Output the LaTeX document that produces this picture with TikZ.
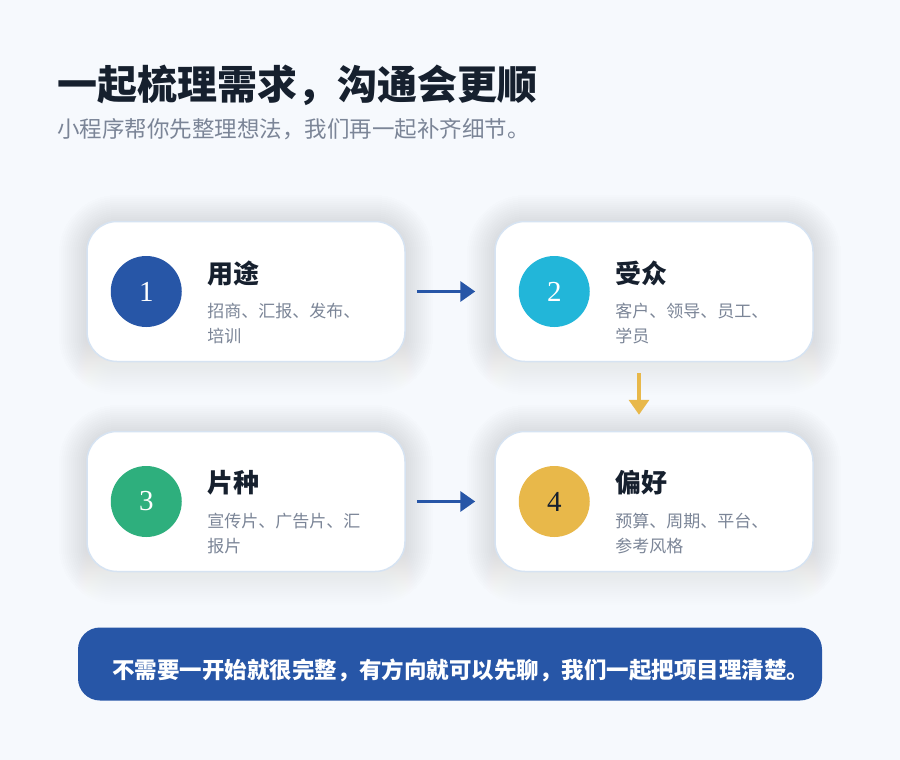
\documentclass[tikz,border=0pt]{standalone}
\usepackage{fontspec}
\setmainfont{Liberation Serif}
\newfontfamily\cjk{Noto Sans CJK SC}
\usepackage{tikz}
\usetikzlibrary{arrows.meta,positioning}
\definecolor{bgpage}{HTML}{F6F9FD}
\definecolor{ink}{HTML}{16202E}
\definecolor{mute}{HTML}{7B8597}
\definecolor{edge}{HTML}{D6E3F2}
\definecolor{shade}{HTML}{2A4C86}
\definecolor{royal}{HTML}{2756A7}
\definecolor{cyan}{HTML}{22B6D9}
\definecolor{jade}{HTML}{2EAF7D}
\definecolor{gold}{HTML}{E8B84A}

\begin{document}
\begin{tikzpicture}[x=1pt,y=-1pt,
  card/.style={draw=edge,line width=1.5pt,fill=white,rounded corners=30pt,
    minimum width=318pt,minimum height=140pt,inner sep=0pt},
  badge/.style={circle,minimum size=71pt,inner sep=0pt,
    font=\fontsize{29}{29}\selectfont,text=white},
  head/.style={anchor=north west,inner sep=0pt,text=ink,
    font=\cjk\bfseries\fontsize{26}{30}\selectfont},
  note/.style={anchor=north west,inner sep=0pt,align=left,text=mute,
    font=\cjk\fontsize{17}{25}\selectfont},
  arr/.style={-{Triangle[length=15pt,width=20pt]},line width=3.5pt}]
\fill[bgpage] (0,0) rectangle (900,760);
\useasboundingbox (0,0) rectangle (900,760);
% soft shadows under the cards
\foreach \cx/\cy in {246/291,654/291,246/501,654/501}
  \foreach \s in {1,...,14}
    \fill[shade,opacity=0.0035,rounded corners=30pt+\s*2pt]
      (\cx-159-\s*2,\cy-68-\s*2) rectangle (\cx+159+\s*2,\cy+76+\s*2);
% heading
\node[anchor=north west,inner sep=0pt,text=ink,
  font=\cjk\bfseries\fontsize{40}{44}\selectfont] (ttl) at (57,65)
  {一起梳理需求，沟通会更顺};
\node[anchor=north west,inner sep=0pt,text=mute,
  font=\cjk\fontsize{22.5}{26}\selectfont] (sub) at (57,118)
  {小程序帮你先整理想法，我们再一起补齐细节。};
% cards
\node[card] (use) at (246,291.5) {};
\node[card] (aud) at (654,291.5) {};
\node[card] (kind) at (246,501.5) {};
\node[card] (pref) at (654,501.5) {};
\node[badge,fill=royal] (usen) at ([xshift=60pt]use.west) {1};
\node[badge,fill=cyan] (audn) at ([xshift=60pt]aud.west) {2};
\node[badge,fill=jade] (kindn) at ([xshift=60pt]kind.west) {3};
\node[badge,fill=gold,text=ink] (prefn) at ([xshift=60pt]pref.west) {4};
\node[head] (uset) at ([xshift=121pt,yshift=31pt]use.west) {用途};
\node[head] (audt) at ([xshift=121pt,yshift=31pt]aud.west) {受众};
\node[head] (kindt) at ([xshift=121pt,yshift=31pt]kind.west) {片种};
\node[head] (preft) at ([xshift=121pt,yshift=31pt]pref.west) {偏好};
\node[note] (used) at ([xshift=121pt,yshift=-11pt]use.west) {招商、汇报、发布、\\培训};
\node[note] (audd) at ([xshift=121pt,yshift=-11pt]aud.west) {客户、领导、员工、\\学员};
\node[note] (kindd) at ([xshift=121pt,yshift=-11pt]kind.west) {宣传片、广告片、汇\\报片};
\node[note] (prefd) at ([xshift=121pt,yshift=-11pt]pref.west) {预算、周期、平台、\\参考风格};
% flow
\draw[arr,royal,shorten <=11pt,shorten >=19pt] (use) -- (aud);
\draw[arr,gold,shorten <=11pt,shorten >=16pt]
  ([xshift=-15pt]aud.south) -- ([xshift=-15pt]pref.north);
\draw[arr,royal,shorten <=11pt,shorten >=19pt] (kind) -- (pref);
% closing banner
\node[fill=royal,rounded corners=22pt,minimum width=744pt,minimum height=73pt,
  inner sep=0pt] (bar) at (450,664) {};
\node[anchor=west,inner sep=0pt,text=white,
  font=\cjk\bfseries\fontsize{22.5}{26}\selectfont] (bart) at ([xshift=34pt,yshift=-6pt]bar.west)
  {不需要一开始就很完整，有方向就可以先聊，我们一起把项目理清楚。};
\end{tikzpicture}
\end{document}
